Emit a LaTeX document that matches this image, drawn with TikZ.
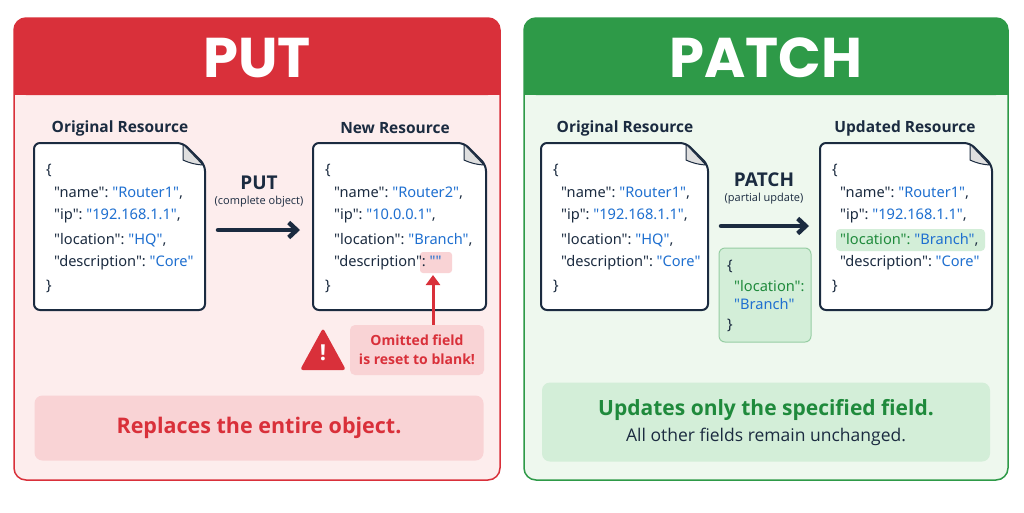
\documentclass[tikz,border=0pt]{standalone}
\usepackage{fontspec}
\usetikzlibrary{arrows.meta}
\setmainfont{Open Sans}
\newfontfamily\hdr{Poppins}
\newfontfamily\cd{Noto Sans}
\newcommand\qq[1]{\symbol{34}#1\symbol{34}}
\begin{document}
\begin{tikzpicture}[x=1pt,y=-1pt,
  doc/.style={draw=docline,line width=2pt,fill=white,rounded corners=6pt},
  ttl/.style={font=\bfseries\fontsize{15.5}{18}\selectfont,text=docline},
  ln/.style={anchor=west,font=\cd\fontsize{14.6}{16}\selectfont,text=docline,inner sep=0},
  hd/.style={font=\hdr\bfseries\fontsize{56}{60}\selectfont,text=white}]
\definecolor{docline}{HTML}{1B2B40}
\definecolor{redd}{HTML}{D9303A}
\definecolor{redbg}{HTML}{FDEDED}
\definecolor{redbox}{HTML}{F9D3D5}
\definecolor{grn}{HTML}{2E9A48}
\definecolor{grnbg}{HTML}{EEF8EE}
\definecolor{grnbox}{HTML}{D3EED8}
\definecolor{blu}{HTML}{1E6FD0}
\definecolor{dg}{HTML}{1F8A3C}
\useasboundingbox (0,0) rectangle (1024,512);
\fill[white] (0,0) rectangle (1024,512);
% panels
\draw[redd,line width=1.5pt,fill=redbg,rounded corners=12pt] (14,18) rectangle (500,480);
\fill[redd,rounded corners=12pt] (14,18) rectangle (500,95);
\fill[redd] (14,60) rectangle (500,95);
\node[hd] (puth) at (257,58) {PUT};
\draw[grn,line width=1.5pt,fill=grnbg,rounded corners=12pt] (524,18) rectangle (1008,480);
\fill[grn,rounded corners=12pt] (524,18) rectangle (1008,95);
\fill[grn] (524,60) rectangle (1008,95);
\node[hd] (patchh) at (766,58) {PATCH};
% doc macro
\newcommand\mydoc[4]{%
  \draw[doc] (#2,143) -- (#3-22,143) -- (#3,165) -- (#3,310) -- (#2,310) -- cycle;
  \fill[gray!25,draw=docline,line width=1pt] (#3-22,144) -- (#3-22,160) to[bend right=10] (#3-2,165) -- cycle;
  \coordinate (#1) at ({(#2+#3)/2},226);}
% PUT side
\node[ttl] (t1) at (120,128) {Original Resource};
\node[ttl] (t2) at (395,128) {New Resource};
\mydoc{d1}{34}{205}{}
\mydoc{d2}{313}{486}{}
\node[ln] (a1) at (46,170) {\{};
\node[ln] (a2) at (54,193) {\qq{name}:\ \textcolor{blu}{\qq{Router1}},};
\node[ln] (a3) at (54,216) {\qq{ip}:\ \textcolor{blu}{\qq{192.168.1.1}},};
\node[ln] (a4) at (54,240) {\qq{location}:\ \textcolor{blu}{\qq{HQ}},};
\node[ln] (a5) at (54,263) {\qq{description}:\ \textcolor{blu}{\qq{Core}}};
\node[ln] (a6) at (46,286) {\}};
\fill[redbox,rounded corners=3pt] (420,252) rectangle (452,273);
\node[ln] (b1) at (325,170) {\{};
\node[ln] (b2) at (334,193) {\qq{name}:\ \textcolor{blu}{\qq{Router2}},};
\node[ln] (b3) at (334,216) {\qq{ip}:\ \textcolor{blu}{\qq{10.0.0.1}},};
\node[ln] (b4) at (334,240) {\qq{location}:\ \textcolor{blu}{\qq{Branch}},};
\node[ln] (b5) at (334,263) {\qq{description}:\ \textcolor{blu}{\qq{}}};
\node[ln] (b6) at (325,286) {\}};
\node[font=\bfseries\fontsize{19}{20}\selectfont,text=docline] (pl) at (259,183) {PUT};
\node[font=\fontsize{11}{12}\selectfont,text=docline] (pl2) at (259,202) {(complete object)};
\coordinate (ps) at (218,230); \coordinate (pe) at (300,230);
\draw[docline,line width=4.5pt,line cap=round,-{Straight Barb[length=8pt,width=15pt]}] (ps) -- (pe);
% callout
\node[fill=redbox,rounded corners=5pt,minimum width=134pt,minimum height=50pt,align=center,text=redd,font=\bfseries\fontsize{14}{19}\selectfont] (om) at (417,350) {Omitted field\\is reset to blank!};
\coordinate (hl) at (433,275);
\draw[redd,line width=3pt,-{Triangle[length=10pt,width=14pt]}] (om.north -| hl) -- (hl);
\fill[redd,rounded corners=3pt] (323,328) -- (346,370) -- (300,370) -- cycle;
\node[text=white,font=\bfseries\fontsize{22}{22}\selectfont] (ex) at (323,353) {!};
\node[fill=redbox,rounded corners=8pt,minimum width=449pt,minimum height=65pt,text=redd,font=\bfseries\fontsize{21.5}{24}\selectfont] (s1) at (259,428) {Replaces the entire object.};
% PATCH side
\node[ttl] (t3) at (625,128) {Original Resource};
\node[ttl] (t4) at (905,128) {Updated Resource};
\mydoc{d3}{541}{708}{}
\mydoc{d4}{820}{992}{}
\node[ln] (c1) at (553,170) {\{};
\node[ln] (c2) at (561,193) {\qq{name}:\ \textcolor{blu}{\qq{Router1}},};
\node[ln] (c3) at (561,216) {\qq{ip}:\ \textcolor{blu}{\qq{192.168.1.1}},};
\node[ln] (c4) at (561,240) {\qq{location}:\ \textcolor{blu}{\qq{HQ}},};
\node[ln] (c5) at (561,263) {\qq{description}:\ \textcolor{blu}{\qq{Core}}};
\node[ln] (c6) at (553,286) {\}};
\fill[grnbox,rounded corners=4pt] (836,229) rectangle (985,251);
\node[ln] (e1) at (832,170) {\{};
\node[ln] (e2) at (840,193) {\qq{name}:\ \textcolor{blu}{\qq{Router1}},};
\node[ln] (e3) at (840,216) {\qq{ip}:\ \textcolor{blu}{\qq{192.168.1.1}},};
\node[ln] (e4) at (840,240) {\textcolor{dg}{\qq{location}:}\ \textcolor{blu}{\qq{Branch}},};
\node[ln] (e5) at (840,263) {\qq{description}:\ \textcolor{blu}{\qq{Core}}};
\node[ln] (e6) at (832,286) {\}};
\node[font=\bfseries\fontsize{19}{20}\selectfont,text=docline] (ql) at (764,180) {PATCH};
\node[font=\fontsize{11}{12}\selectfont,text=docline] (ql2) at (764,199) {(partial update)};
\coordinate (qs) at (721,226); \coordinate (qe) at (809,226);
\draw[docline,line width=4.5pt,line cap=round,-{Straight Barb[length=8pt,width=15pt]}] (qs) -- (qe);
\draw[grn!50,fill=grnbox,line width=1pt,rounded corners=6pt] (719,248) rectangle (811,342);
\node[ln] (f1) at (727,266) {\{};
\node[ln] (f2) at (734,286) {\textcolor{dg}{\qq{location}:}};
\node[ln] (f3) at (734,304) {\textcolor{blu}{\qq{Branch}}};
\node[ln] (f4) at (727,325) {\}};
\node[fill=grnbox,rounded corners=8pt,minimum width=448pt,minimum height=79pt] (s2) at (766,422) {};
\node[text=dg,font=\bfseries\fontsize{21}{24}\selectfont] (s2a) at (766,410) {Updates only the specified field.};
\node[text=docline,font=\fontsize{17.5}{20}\selectfont] (s2b) at (766,437) {All other fields remain unchanged.};
\end{tikzpicture}
\end{document}
